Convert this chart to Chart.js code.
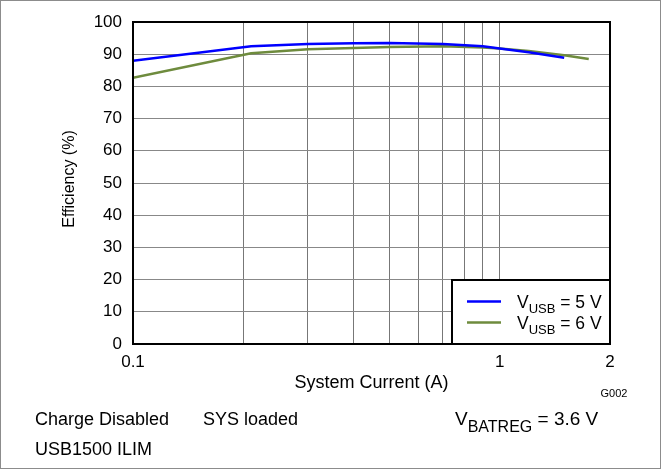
<!DOCTYPE html>
<html>
<head>
<meta charset="utf-8">
<script src="https://cdn.jsdelivr.net/npm/chart.js@4.4.1/dist/chart.umd.min.js"></script>
<style>
  html, body { margin: 0; padding: 0; background: #fff; }
  #wrap { position: relative; width: 661px; height: 469px; }
</style>
</head>
<body>
<div id="wrap"><canvas id="eff-chart" width="661" height="469"></canvas></div>
<script>
// System current (A) and efficiency (%)
var currentUsb5 = [0.1, 0.21, 0.3, 0.4, 0.5, 0.7, 0.9, 1.0, 1.2, 1.5];
var efficiencyUsb5 = [88.0, 92.5, 93.2, 93.4, 93.5, 93.2, 92.5, 91.8, 90.6, 88.9];

var currentUsb6 = [0.1, 0.21, 0.3, 0.4, 0.5, 0.7, 0.9, 1.0, 1.2, 1.5, 1.75];
var efficiencyUsb6 = [82.7, 90.3, 91.5, 91.9, 92.2, 92.5, 92.1, 91.8, 91.0, 89.7, 88.5];

var xTicks = [0.1, 0.2, 0.3, 0.4, 0.5, 0.6, 0.7, 0.8, 0.9, 1, 2];
var xTickLabels = ["0.1", "", "", "", "", "", "", "", "", "1", "2"];

// legend text: main letter, subscript, rest
var legendNames = [["V", "USB", " = 5 V"], ["V", "USB", " = 6 V"]];
var lineColors = ["#0000ff", "#6e8b3d"];

var FONT = '"Liberation Sans", Arial, Helvetica, sans-serif';
Chart.defaults.font.family = FONT;
Chart.defaults.color = "#000";

function toPoints(xs, ys) {
    var pts = [];
    for (var i = 0; i < xs.length; i++) pts.push({ x: xs[i], y: ys[i] });
    return pts;
}

// draws "V" + subscript + rest, left aligned, baseline y
function subText(ctx, x, y, parts, size, subSize, drop) {
    ctx.textAlign = "left";
    ctx.textBaseline = "alphabetic";
    ctx.font = size + "px " + FONT;
    ctx.fillText(parts[0], x, y);
    x += ctx.measureText(parts[0]).width;
    ctx.font = subSize + "px " + FONT;
    ctx.fillText(parts[1], x, y + drop);
    x += ctx.measureText(parts[1]).width;
    ctx.font = size + "px " + FONT;
    ctx.fillText(parts[2], x, y);
}

var decorPlugin = {
    id: "decor",
    afterDatasetsDraw: function (chart) {
        var ctx = chart.ctx;
        var a = chart.chartArea;
        ctx.save();

        // plot frame
        ctx.strokeStyle = "#000";
        ctx.lineWidth = 2;
        ctx.strokeRect(a.left, a.top, a.right - a.left, a.bottom - a.top);

        // legend box
        var lx = 452, ly = 280;
        ctx.fillStyle = "#fff";
        ctx.fillRect(lx, ly, a.right - lx, a.bottom - ly);
        ctx.strokeRect(lx, ly, a.right - lx, a.bottom - ly);
        for (var i = 0; i < legendNames.length; i++) {
            var yy = 301.5 + i * 21;
            ctx.strokeStyle = lineColors[i];
            ctx.lineWidth = 2.5;
            ctx.beginPath();
            ctx.moveTo(467, yy);
            ctx.lineTo(501, yy);
            ctx.stroke();
            ctx.fillStyle = "#000";
            subText(ctx, 517, yy + 6, legendNames[i], 17.5, 13, 5);
        }

        // axis titles
        ctx.fillStyle = "#000";
        ctx.font = "16px " + FONT;
        ctx.textAlign = "center";
        ctx.textBaseline = "middle";
        ctx.save();
        ctx.translate(70, (a.top + a.bottom) / 2 - 4);
        ctx.rotate(-Math.PI / 2);
        ctx.fillText("Efficiency (%)", 0, 0);
        ctx.restore();
        ctx.font = "18px " + FONT;
        ctx.fillText("System Current (A)", (a.left + a.right) / 2, 383);

        ctx.font = "11px " + FONT;
        ctx.fillText("G002", 614, 394);

        // conditions
        ctx.font = "18px " + FONT;
        ctx.textAlign = "left";
        ctx.textBaseline = "alphabetic";
        ctx.fillText("Charge Disabled", 35, 425);
        ctx.fillText("SYS loaded", 203, 425);
        ctx.fillText("USB1500 ILIM", 35, 455);
        subText(ctx, 455, 425, ["V", "BATREG", " = 3.6 V"], 19, 16, 7);

        // outer frame
        ctx.strokeStyle = "#8c8c8c";
        ctx.lineWidth = 1;
        ctx.strokeRect(0.5, 0.5, chart.width - 1, chart.height - 1);
        ctx.restore();
    }
};

var ctx = document.getElementById("eff-chart").getContext("2d");

var myChart = new Chart(ctx, {
    type: "line",
    data: {
        datasets: [{
            label: "VUSB = 5 V",
            data: toPoints(currentUsb5, efficiencyUsb5),
            borderColor: lineColors[0],
            borderWidth: 2.5,
            pointRadius: 0,
            fill: false,
            tension: 0
        }, {
            label: "VUSB = 6 V",
            data: toPoints(currentUsb6, efficiencyUsb6),
            borderColor: lineColors[1],
            borderWidth: 2.5,
            pointRadius: 0,
            fill: false,
            tension: 0
        }]
    },
    options: {
        responsive: false,
        animation: false,
        layout: { padding: { left: 0, top: 22, right: 51, bottom: 0 } },
        plugins: {
            legend: { display: false },
            tooltip: { enabled: false }
        },
        scales: {
            x: {
                type: "logarithmic",
                min: 0.1,
                max: 2,
                afterBuildTicks: function (scale) {
                    scale.ticks = xTicks.map(function (v) { return { value: v }; });
                },
                afterFit: function (scale) { scale.height = 125; },
                ticks: {
                    autoSkip: false,
                    maxRotation: 0,
                    padding: 8,
                    font: { size: 17 },
                    callback: function (value, index) { return xTickLabels[index]; }
                },
                grid: { color: "#777", lineWidth: 1, drawTicks: false },
                border: { display: false }
            },
            y: {
                min: 0,
                max: 100,
                afterFit: function (scale) { scale.width = 133; },
                ticks: { stepSize: 10, padding: 11, font: { size: 17 } },
                grid: { color: "#888", lineWidth: 1, drawTicks: false },
                border: { display: false }
            }
        }
    },
    plugins: [decorPlugin]
});
</script>
</body>
</html>
